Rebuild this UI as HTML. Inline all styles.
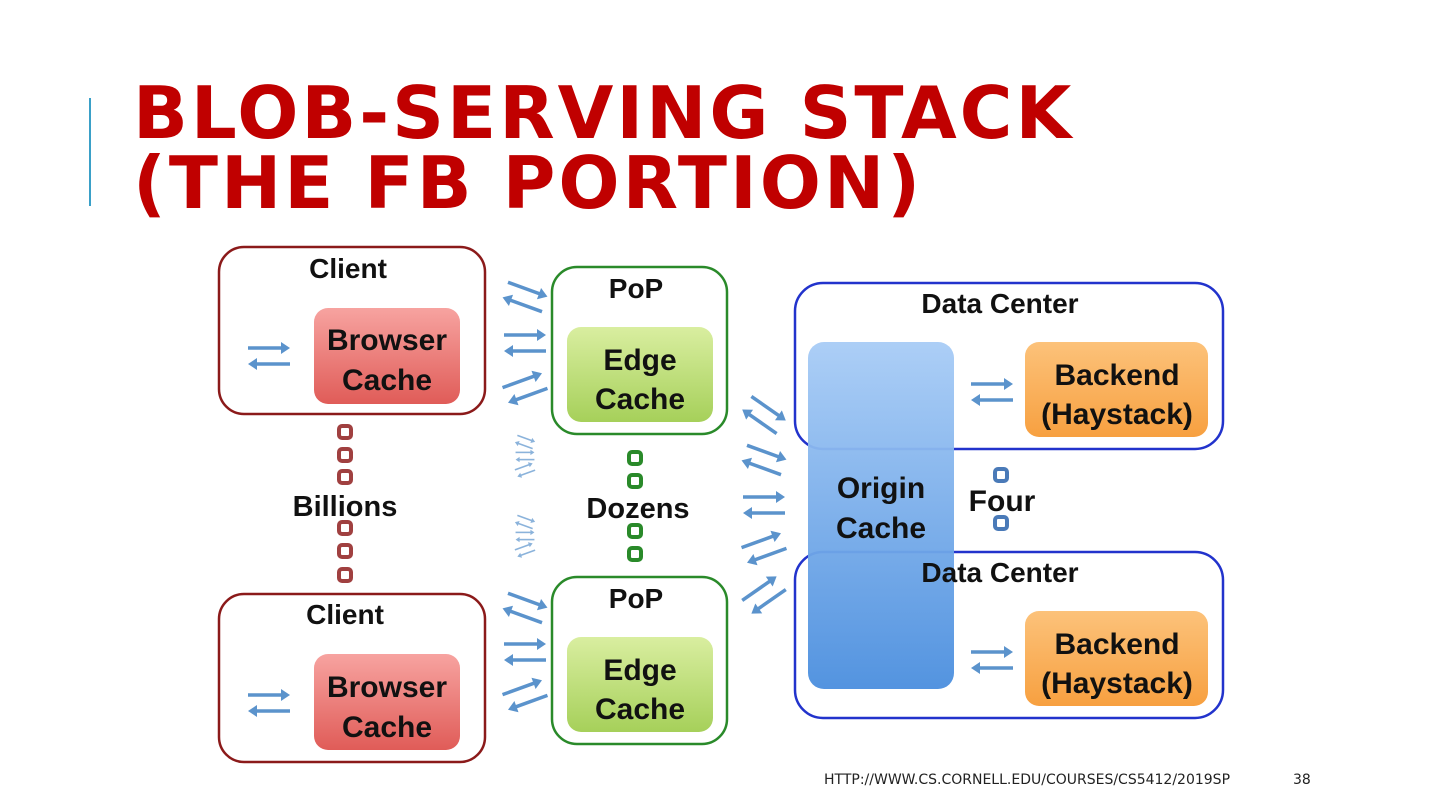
<!DOCTYPE html>
<html><head><meta charset="utf-8"><style>
html,body{margin:0;padding:0;background:#fff;}
body{width:1440px;height:810px;position:relative;overflow:hidden;font-family:"DejaVu Sans",sans-serif;}
.title{position:absolute;left:133px;top:78px;color:#c00000;font-weight:bold;font-size:72px;line-height:70px;letter-spacing:3px;font-family:"DejaVu Sans",sans-serif;}
.bar{position:absolute;left:89px;top:98px;width:2px;height:108px;background:#3aa0c8;}
.foot{position:absolute;top:772px;font-size:14px;color:#222;font-family:"DejaVu Sans",sans-serif;}
svg text{font-family:"Liberation Sans Narrow","Liberation Sans",sans-serif;font-weight:bold;fill:#111;text-anchor:middle;}
</style></head><body>
<div class="bar"></div>
<div class="title">BLOB-SERVING STACK<br>(THE FB PORTION)</div>
<svg width="1440" height="810" style="position:absolute;left:0;top:0">
<defs>
<linearGradient id="gr" x1="0" y1="0" x2="0" y2="1"><stop offset="0" stop-color="#f7a3a0"/><stop offset="1" stop-color="#e05c58"/></linearGradient>
<linearGradient id="gg" x1="0" y1="0" x2="0" y2="1"><stop offset="0" stop-color="#d9eea0"/><stop offset="1" stop-color="#a6d05a"/></linearGradient>
<linearGradient id="go" x1="0" y1="0" x2="0" y2="1"><stop offset="0" stop-color="#fcc27a"/><stop offset="1" stop-color="#f7a040"/></linearGradient>
<linearGradient id="gb" x1="0" y1="0" x2="0" y2="1"><stop offset="0" stop-color="#a8ccf6"/><stop offset="1" stop-color="#4a8ede"/></linearGradient>
<g id="pair" stroke="#5b93cc" stroke-width="3.5" fill="#5b93cc">
<line x1="-21" y1="-8" x2="14" y2="-8"/><polygon points="21,-8 12,-14 12,-2" stroke="none"/>
<line x1="21" y1="8" x2="-14" y2="8"/><polygon points="-21,8 -12,2 -12,14" stroke="none"/>
</g>
<g id="dr"><rect x="-6" y="-6" width="12" height="12" rx="3" fill="none" stroke="#a04040" stroke-width="4"/></g>
<g id="dg"><rect x="-6" y="-6" width="12" height="12" rx="3" fill="none" stroke="#2a8a2a" stroke-width="4"/></g>
<g id="db"><rect x="-6" y="-6" width="12" height="12" rx="3" fill="none" stroke="#4a7ab8" stroke-width="4"/></g>
</defs>
<!-- Clients -->
<rect x="219" y="247" width="266" height="167" rx="25" fill="#fff" stroke="#8b1a1a" stroke-width="2.5"/>
<rect x="314" y="308" width="146" height="96" rx="14" fill="url(#gr)"/>
<text x="348" y="278" font-size="28">Client</text>
<text x="387" y="350" font-size="30">Browser</text>
<text x="387" y="390" font-size="30">Cache</text>
<rect x="219" y="594" width="266" height="168" rx="25" fill="#fff" stroke="#8b1a1a" stroke-width="2.5"/>
<rect x="314" y="654" width="146" height="96" rx="14" fill="url(#gr)"/>
<text x="345" y="624" font-size="28">Client</text>
<text x="387" y="697" font-size="30">Browser</text>
<text x="387" y="737" font-size="30">Cache</text>
<use href="#pair" transform="translate(269,356)"/>
<use href="#pair" transform="translate(269,703)"/>
<!-- PoPs -->
<rect x="552" y="267" width="175" height="167" rx="25" fill="#fff" stroke="#2a8a2a" stroke-width="2.5"/>
<rect x="567" y="327" width="146" height="95" rx="14" fill="url(#gg)"/>
<text x="636" y="298" font-size="28">PoP</text>
<text x="640" y="370" font-size="30">Edge</text>
<text x="640" y="409" font-size="30">Cache</text>
<rect x="552" y="577" width="175" height="167" rx="25" fill="#fff" stroke="#2a8a2a" stroke-width="2.5"/>
<rect x="567" y="637" width="146" height="95" rx="14" fill="url(#gg)"/>
<text x="636" y="608" font-size="28">PoP</text>
<text x="640" y="680" font-size="30">Edge</text>
<text x="640" y="719" font-size="30">Cache</text>
<!-- Data centers -->
<rect x="795" y="283" width="428" height="166" rx="28" fill="none" stroke="#2233cc" stroke-width="2.5"/>
<rect x="1025" y="342" width="183" height="95" rx="14" fill="url(#go)"/>
<text x="1000" y="313" font-size="28">Data Center</text>
<text x="1117" y="385" font-size="30">Backend</text>
<text x="1117" y="424" font-size="30">(Haystack)</text>
<rect x="795" y="552" width="428" height="166" rx="28" fill="none" stroke="#2233cc" stroke-width="2.5"/>
<rect x="1025" y="611" width="183" height="95" rx="14" fill="url(#go)"/>
<text x="1117" y="654" font-size="30">Backend</text>
<text x="1117" y="693" font-size="30">(Haystack)</text>
<rect x="808" y="342" width="146" height="347" rx="16" fill="url(#gb)" opacity="0.95"/>
<text x="1000" y="582" font-size="28">Data Center</text>
<text x="881" y="498" font-size="30">Origin</text>
<text x="881" y="538" font-size="30">Cache</text>
<text x="1002" y="511" font-size="30">Four</text>
<use href="#db" transform="translate(1001,475)"/>
<use href="#db" transform="translate(1001,523)"/>
<use href="#pair" transform="translate(992,392)"/>
<use href="#pair" transform="translate(992,660)"/>
<!-- dots -->
<use href="#dr" transform="translate(345,432)"/><use href="#dr" transform="translate(345,455)"/><use href="#dr" transform="translate(345,477)"/>
<use href="#dr" transform="translate(345,528)"/><use href="#dr" transform="translate(345,551)"/><use href="#dr" transform="translate(345,575)"/>
<text x="345" y="516" font-size="29">Billions</text>
<use href="#dg" transform="translate(635,458)"/><use href="#dg" transform="translate(635,481)"/>
<use href="#dg" transform="translate(635,531)"/><use href="#dg" transform="translate(635,554)"/>
<text x="638" y="518" font-size="29">Dozens</text>
<!-- connector arrows -->
<use href="#pair" transform="translate(525,297) rotate(20)"/>
<use href="#pair" transform="translate(525,343)"/>
<use href="#pair" transform="translate(525,388) rotate(-20)"/>
<use href="#pair" transform="translate(525,608) rotate(20)"/>
<use href="#pair" transform="translate(525,652)"/>
<use href="#pair" transform="translate(525,695) rotate(-20)"/>
<g opacity="0.7">
<use href="#pair" transform="translate(525,442) rotate(20) scale(0.45)"/>
<use href="#pair" transform="translate(525,456) scale(0.45)"/>
<use href="#pair" transform="translate(525,470) rotate(-20) scale(0.45)"/>
<use href="#pair" transform="translate(525,522) rotate(20) scale(0.45)"/>
<use href="#pair" transform="translate(525,536) scale(0.45)"/>
<use href="#pair" transform="translate(525,550) rotate(-20) scale(0.45)"/>
</g>
<use href="#pair" transform="translate(764,415) rotate(35)"/>
<use href="#pair" transform="translate(764,460) rotate(20)"/>
<use href="#pair" transform="translate(764,505)"/>
<use href="#pair" transform="translate(764,548) rotate(-20)"/>
<use href="#pair" transform="translate(764,595) rotate(-35)"/>
</svg>
<div class="foot" style="left:824px">HTTP://WWW.CS.CORNELL.EDU/COURSES/CS5412/2019SP</div>
<div class="foot" style="left:1293px">38</div>
</body></html>
